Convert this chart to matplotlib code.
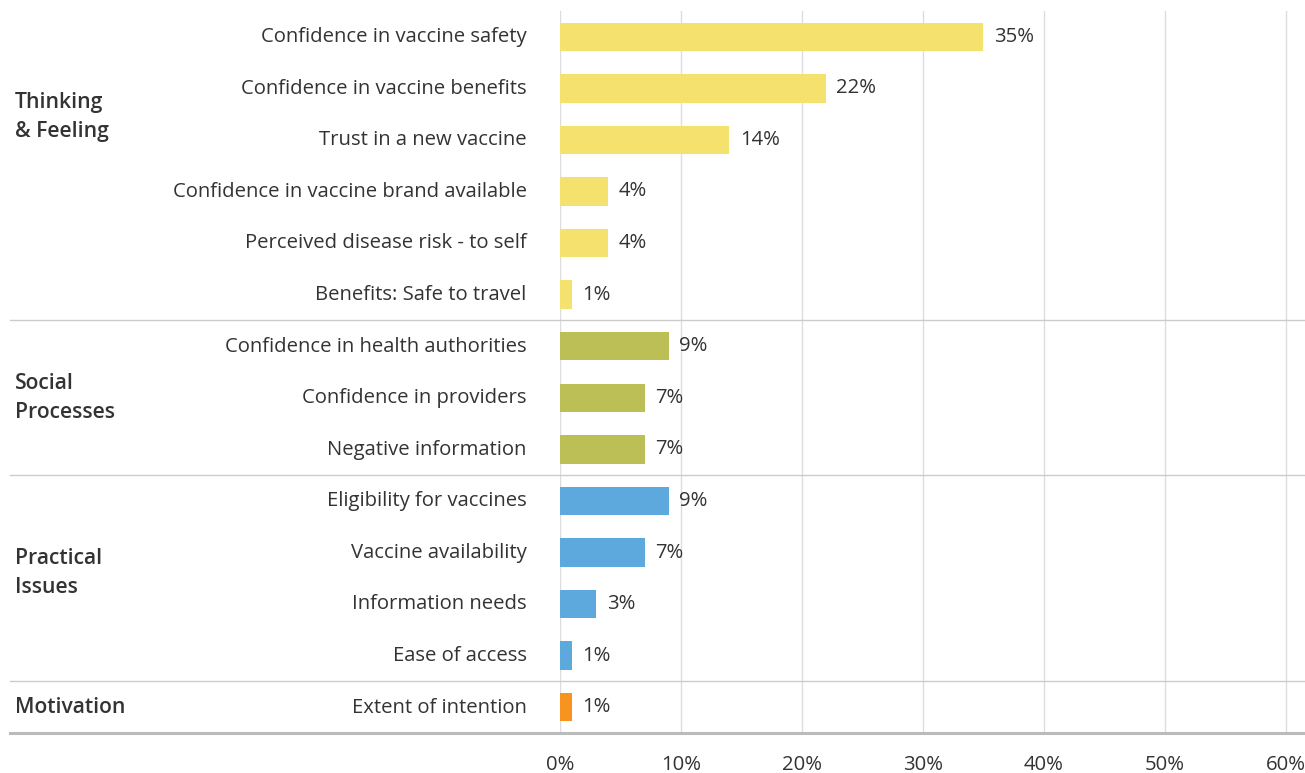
import matplotlib
matplotlib.use("Agg")
import matplotlib.pyplot as plt
import matplotlib.transforms as mtransforms
from matplotlib.lines import Line2D

plt.rcParams['font.family'] = ['Open Sans', 'DejaVu Sans']

# Data
factors = [
    "Confidence in vaccine safety",
    "Confidence in vaccine benefits",
    "Trust in a new vaccine",
    "Confidence in vaccine brand available",
    "Perceived disease risk - to self",
    "Benefits: Safe to travel",
    "Confidence in health authorities",
    "Confidence in providers",
    "Negative information",
    "Eligibility for vaccines",
    "Vaccine availability",
    "Information needs",
    "Ease of access",
    "Extent of intention",
]
values = [35, 22, 14, 4, 4, 1, 9, 7, 7, 9, 7, 3, 1, 1]
groups = ["Thinking\n& Feeling", "Social\nProcesses", "Practical\nIssues", "Motivation"]
group_sizes = [6, 3, 4, 1]
group_colors = ["#F5E16E", "#BBBF55", "#5DA9DD", "#F7931E"]
x_ticks = [0, 10, 20, 30, 40, 50, 60]

TEXT = "#333333"
FS = 14.6
W, H = 1305, 773
fig = plt.figure(figsize=(W / 100, H / 100), dpi=100)
ax = fig.add_axes([560 / W, 1 - 733 / H, (W - 560) / W, (733 - 11) / H])

colors = []
for c, n in zip(group_colors, group_sizes):
    colors += [c] * n

ypos = list(range(len(factors)))
ax.barh(ypos, values, height=0.55, color=colors, zorder=3)
ax.set_ylim(len(factors) - 0.5, -0.5)
ax.set_xlim(0, 61.6)

for y, v in zip(ypos, values):
    ax.annotate(f"{v}%", (v, y), xytext=(7.5, 0), textcoords="offset points",
                ha="left", va="center", fontsize=FS, color=TEXT)

ax.set_yticks(ypos)
ax.set_yticklabels(factors, fontsize=FS, color=TEXT)
ax.tick_params(axis="y", length=0, pad=24)
for lbl in ax.get_yticklabels():
    lbl.set_transform(lbl.get_transform() +
                      mtransforms.ScaledTranslation(0, 1.5 / 72, fig.dpi_scale_trans))
ax.set_xticks(x_ticks)
ax.set_xticklabels([f"{t}%" for t in x_ticks], fontsize=FS, color=TEXT)
ax.tick_params(axis="x", length=0, pad=16)

ax.grid(axis="x", color="#DDDDDD", linewidth=1, zorder=0)
for s in ax.spines.values():
    s.set_visible(False)

# Group separators and bottom rule spanning the whole width
blend = mtransforms.blended_transform_factory(fig.transFigure, ax.transData)
x0 = 10 / W
start = 0
for i, n in enumerate(group_sizes):
    end = start + n
    if i < len(group_sizes) - 1:
        fig.add_artist(Line2D([x0, 1], [end - 0.5, end - 0.5], transform=blend,
                              color="#CCCCCC", linewidth=1))
    start = end
fig.add_artist(Line2D([x0, 1], [len(factors) - 0.5] * 2, transform=blend,
                      color="#BBBBBB", linewidth=2.2))

# Group labels
label_y = [1.55, 7.0, 10.4, 13.0]
for g, yl in zip(groups, label_y):
    fig.text(15 / W, yl, g, transform=blend, ha="left", va="center",
             fontsize=15.2, fontweight="semibold", color=TEXT, linespacing=1.5)

fig.savefig("out.png", dpi=100, facecolor="white")
